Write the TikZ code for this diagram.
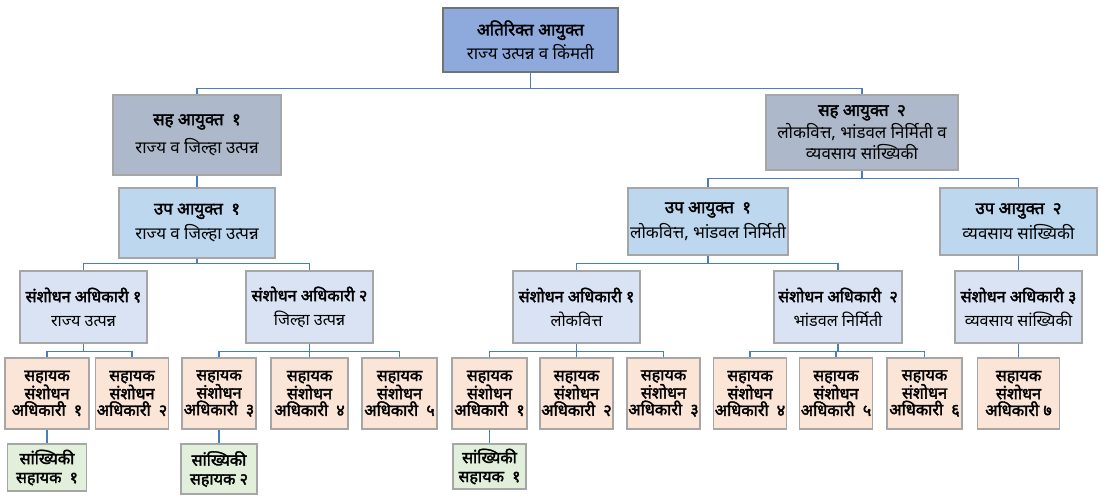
\documentclass[tikz,border=0pt]{standalone}
\usepackage{fontspec}
\newfontfamily\deva[Script=Devanagari, AutoFakeBold=2.2]{Noto Sans}
\usepackage{xcolor}
\definecolor{chiefblue}{HTML}{8EA9DB}
\definecolor{jointgray}{HTML}{ADB9CA}
\definecolor{deputyblue}{HTML}{BDD7EE}
\definecolor{officerblue}{HTML}{DAE3F3}
\definecolor{asstpeach}{HTML}{FBE5D6}
\definecolor{statgreen}{HTML}{E2EFDA}
\definecolor{linkblue}{HTML}{4A7EBB}

\begin{document}
\begin{tikzpicture}[
    x=0.025cm, y=-0.025cm,
    post/.style={
        draw=black!35,
        line width=1.1pt,
        align=center,
        inner sep=1pt,
        font=\deva\fontsize{12}{15}\selectfont,
    },
    chief/.style={post, fill=chiefblue, draw=black!55, minimum width=4.375cm, minimum height=1.6cm},
    joint/.style={post, fill=jointgray, minimum width=#1},
    deputy/.style={post, fill=deputyblue, minimum width=#1},
    officer/.style={post, fill=officerblue, minimum width=#1, minimum height=1.8cm,
        font=\deva\fontsize{11.5}{14}\selectfont},
    asst/.style={post, fill=asstpeach, minimum width=#1, minimum height=1.775cm,
        font=\deva\bfseries\fontsize{11.5}{11.8}\selectfont},
    stat/.style={post, fill=statgreen, minimum width=#1,
        font=\deva\bfseries\fontsize{11.5}{13.4}\selectfont},
    link/.style={draw=linkblue, line width=1pt},
]
\useasboundingbox (0,0) rectangle (1104,499);

% top
\node[chief] (addl) at (530.5, 40) {\textbf{अतिरिक्त आयुक्त}\\[2pt] राज्य उत्पन्न व किंमती};

% joint commissioners
\node[joint=4.2cm, minimum height=2cm] (joint1) at (197, 135) {\textbf{सह आयुक्त\enspace १}\\[5pt] राज्य व जिल्हा उत्पन्न};
\node[joint=4.8cm, minimum height=1.875cm] (joint2) at (862, 132.5) {\textbf{सह आयुक्त\enspace २}\\[1pt] लोकवित्त, भांडवल निर्मिती व\\ व्यवसाय सांख्यिकी};

% deputy commissioners
\node[deputy=3.9cm, minimum height=1.75cm] (dep1L) at (197, 223) {\textbf{उप आयुक्त\enspace १}\\[3pt] राज्य व जिल्हा उत्पन्न};
\node[deputy=4cm, minimum height=1.675cm] (dep1R) at (708, 221.5) {\textbf{उप आयुक्त\enspace १}\\[3pt] लोकवित्त, भांडवल निर्मिती};
\node[deputy=3.925cm, minimum height=1.675cm] (dep2) at (1018.5, 221.5) {\textbf{उप आयुक्त\enspace २}\\[3pt] व्यवसाय सांख्यिकी};

% research officers
\node[officer=3.175cm] (ro1L) at (83.5, 307) {\textbf{संशोधन अधिकारी १}\\[3pt] राज्य उत्पन्न};
\node[officer=3.175cm] (ro2L) at (309.5, 307) {\textbf{संशोधन अधिकारी २}\\[3pt] जिल्हा उत्पन्न};
\node[officer=3.175cm] (ro1R) at (576.5, 307) {\textbf{संशोधन अधिकारी १}\\[3pt] लोकवित्त};
\node[officer=3.2cm] (ro2R) at (838, 307) {\textbf{संशोधन अधिकारी\enspace २}\\[3pt] भांडवल निर्मिती};
\node[officer=3.175cm] (ro3) at (1018.5, 307) {\textbf{संशोधन अधिकारी ३}\\[3pt] व्यवसाय सांख्यिकी};

% assistant research officers
\node[asst=2.1cm] (aro1L) at (47, 393.5) {सहायक\\ संशोधन\\ अधिकारी\enspace १};
\node[asst=1.75cm] (aro2L) at (132, 393.5) {सहायक\\ संशोधन\\ अधिकारी\enspace २};
\node[asst=1.85cm] (aro3L) at (219, 393.5) {सहायक\\ संशोधन\\ अधिकारी\enspace ३};
\node[asst=1.925cm] (aro4L) at (309.5, 393.5) {सहायक\\ संशोधन\\ अधिकारी\enspace ४};
\node[asst=1.875cm] (aro5L) at (399.5, 393.5) {सहायक\\ संशोधन\\ अधिकारी\enspace ५};
\node[asst=1.875cm] (aro1R) at (489.5, 393.5) {सहायक\\ संशोधन\\ अधिकारी\enspace १};
\node[asst=1.775cm] (aro2R) at (576.5, 393.5) {सहायक\\ संशोधन\\ अधिकारी\enspace २};
\node[asst=1.825cm] (aro3R) at (663.5, 393.5) {सहायक\\ संशोधन\\ अधिकारी\enspace ३};
\node[asst=1.8cm] (aro4R) at (750, 393.5) {सहायक\\ संशोधन\\ अधिकारी\enspace ४};
\node[asst=1.8cm] (aro5R) at (836, 393.5) {सहायक\\ संशोधन\\ अधिकारी\enspace ५};
\node[asst=1.875cm] (aro6R) at (924.5, 393.5) {सहायक\\ संशोधन\\ अधिकारी\enspace ६};
\node[asst=2.05cm] (aro7) at (1018.5, 393.5) {सहायक\\ संशोधन\\ अधिकारी ७};

% statistical assistants
\node[stat=1.975cm, minimum height=1.175cm] (sa1L) at (47, 467.5) {सांख्यिकी\\ सहायक\enspace १};
\node[stat=1.9cm, minimum height=1.25cm] (sa2L) at (219, 469) {सांख्यिकी\\ सहायक २};
\node[stat=1.825cm, minimum height=1.125cm] (sa1R) at (489.5, 466.5) {सांख्यिकी\\ सहायक\enspace १};

% connectors
\draw[link] (addl.south) -- ++(0,16) -| (joint1.north);
\draw[link] (addl.south) -- ++(0,16) -| (joint2.north);
\draw[link] (joint1.south) -- (dep1L.north);
\draw[link] (joint2.south) -- ++(0,8) -| (dep1R.north);
\draw[link] (joint2.south) -- ++(0,8) -| (dep2.north);
\draw[link] (dep1L.south) -- ++(0,5) -| (ro1L.north);
\draw[link] (dep1L.south) -- ++(0,5) -| (ro2L.north);
\draw[link] (dep1R.south) -- ++(0,8) -| (ro1R.north);
\draw[link] (dep1R.south) -- ++(0,8) -| (ro2R.north);
\draw[link] (dep2.south) -- (ro3.north);
\draw[link] (ro1L.south) -- ++(0,8) -| (aro1L.north);
\draw[link] (ro1L.south) -- ++(0,8) -| (aro2L.north);
\draw[link] (ro2L.south) -- ++(0,8) -| (aro3L.north);
\draw[link] (ro2L.south) -- (aro4L.north);
\draw[link] (ro2L.south) -- ++(0,8) -| (aro5L.north);
\draw[link] (ro1R.south) -- ++(0,8) -| (aro1R.north);
\draw[link] (ro1R.south) -- (aro2R.north);
\draw[link] (ro1R.south) -- ++(0,8) -| (aro3R.north);
\draw[link] (ro2R.south) -- ++(0,8) -| (aro4R.north);
\draw[link] (ro2R.south) -- ++(0,8) -| (aro5R.north);
\draw[link] (ro2R.south) -- ++(0,8) -| (aro6R.north);
\draw[link] (ro3.south) -- (aro7.north);
\draw[link] (aro1L.south) -- (sa1L.north);
\draw[link] (aro3L.south) -- (sa2L.north);
\draw[link] (aro1R.south) -- (sa1R.north);

\end{tikzpicture}
\end{document}
